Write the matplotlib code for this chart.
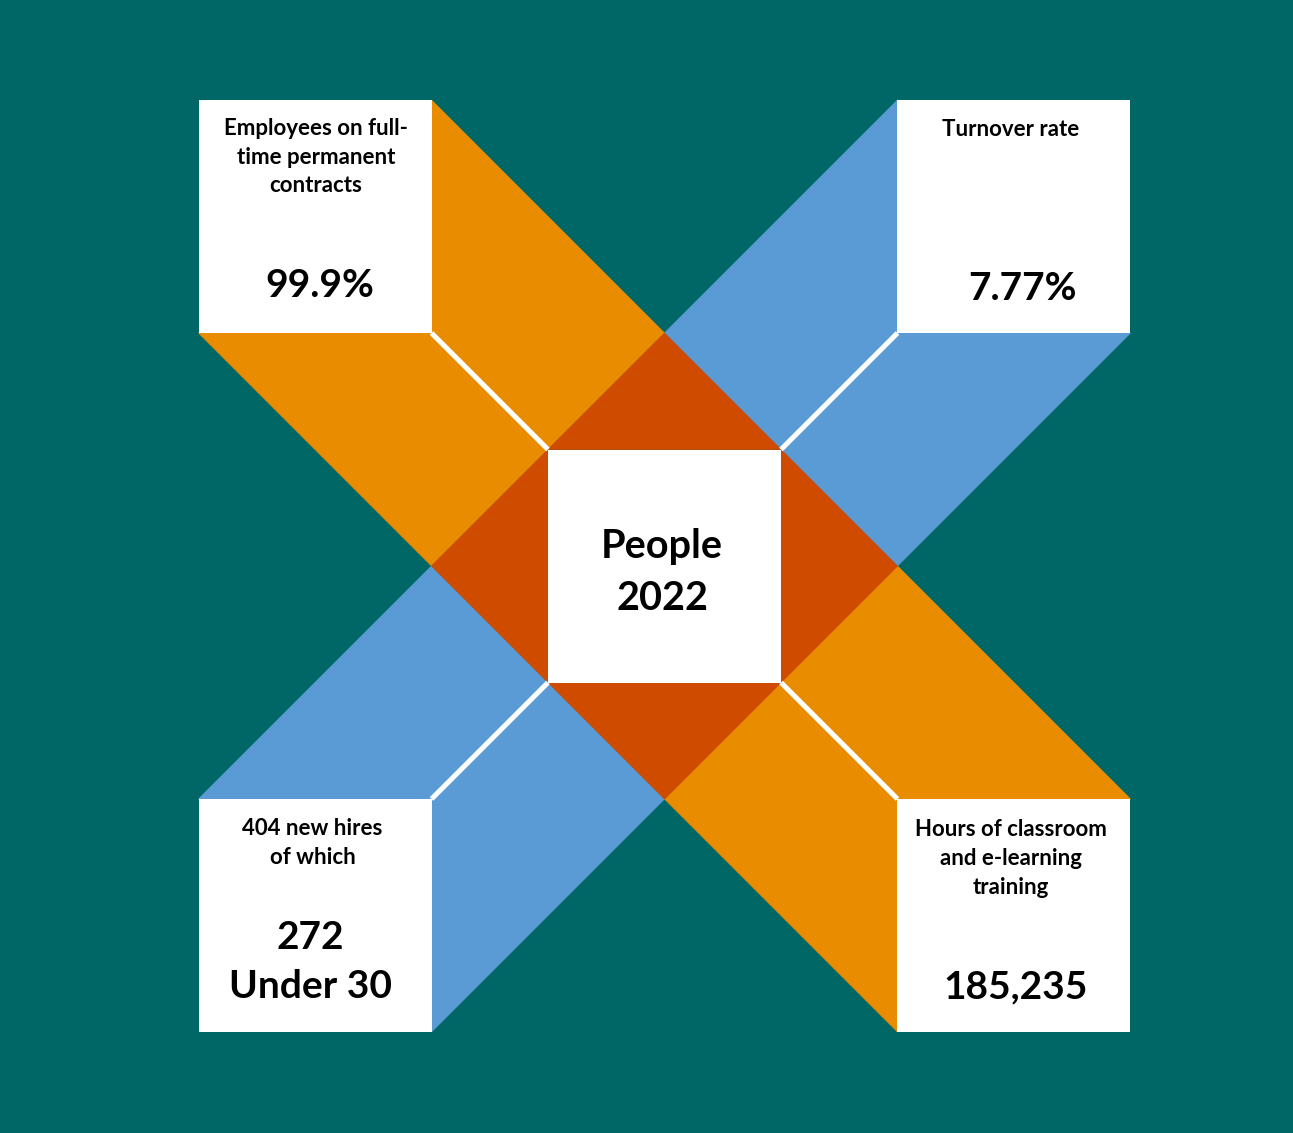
import matplotlib.pyplot as plt
from matplotlib.patches import Polygon, Rectangle

# headline figures for each corner box
labels = ['Employees on full-\ntime permanent\ncontracts', 'Turnover rate',
          '404 new hires\nof which', 'Hours of classroom\nand e-learning\ntraining']
values = ['99.9%', '7.77%', '272\nUnder 30', '185,235']
centre_text = 'People\n2022'

teal = '#006766'
orange = '#EA8C00'
blue = '#5B9BD5'
red = '#CF4B00'

plt.rcParams['font.family'] = ['Lato', 'DejaVu Sans']

fig = plt.figure(figsize=(12.93, 11.33), dpi=100)
fig.patch.set_facecolor(teal)
ax = fig.add_axes([0, 0, 1, 1])
ax.set_facecolor(teal)
# grid unit = half a box, origin at top-left corner of the first box
unit = 116.5
x0, y0 = 198.5, 100
ax.set_xlim(-x0 / unit, (1293 - x0) / unit)
ax.set_ylim((1133 - y0) / unit, -y0 / unit)
ax.axis('off')

# extruded faces of the four corner "cubes"
faces = [
    ([(2, 0), (4, 2), (3, 3), (2, 2)], orange),
    ([(0, 2), (2, 2), (3, 3), (2, 4)], orange),
    ([(6, 0), (6, 2), (5, 3), (4, 2)], blue),
    ([(6, 2), (8, 2), (6, 4), (5, 3)], blue),
    ([(0, 6), (2, 4), (3, 5), (2, 6)], blue),
    ([(2, 6), (3, 5), (4, 6), (2, 8)], blue),
    ([(5, 5), (6, 4), (8, 6), (6, 6)], orange),
    ([(5, 5), (6, 6), (6, 8), (4, 6)], orange),
]
for pts, c in faces:
    ax.add_patch(Polygon(pts, closed=True, facecolor=c, edgecolor=c, lw=0.5))

# red triangles around the centre square
tris = [
    [(3, 3), (5, 3), (4, 2)],
    [(3, 3), (3, 5), (2, 4)],
    [(5, 3), (5, 5), (6, 4)],
    [(3, 5), (5, 5), (4, 6)],
]
for pts in tris:
    ax.add_patch(Polygon(pts, closed=True, facecolor=red, edgecolor=red, lw=0.5))

# white boxes
for bx, by in [(0, 0), (6, 0), (0, 6), (6, 6), (3, 3)]:
    ax.add_patch(Rectangle((bx, by), 2, 2, facecolor='white', edgecolor='none'))

# white seams from corner boxes to the centre
for (xa, ya), (xb, yb) in [((2, 2), (3, 3)), ((6, 2), (5, 3)),
                           ((2, 6), (3, 5)), ((6, 6), (5, 5))]:
    ax.plot([xa, xb], [ya, yb], color='white', lw=3.6, solid_capstyle='butt')

# text
label_pos = [(1.01, 0.49), (6.97, 0.25), (0.98, 6.38), (6.97, 6.51)]
value_pos = [(1.04, 1.59), (7.07, 1.62), (0.96, 7.40), (7.01, 7.61)]
for lab, (lx, ly) in zip(labels, label_pos):
    ax.text(lx, ly, lab, ha='center', va='center', fontsize=16,
            fontweight='bold', linespacing=1.45, color='black')
for val, (vx, vy) in zip(values, value_pos):
    ax.text(vx, vy, val, ha='center', va='center', fontsize=28,
            fontweight='bold', linespacing=1.5, color='black')
ax.text(3.98, 4.06, centre_text, ha='center', va='center', fontsize=28.5,
        fontweight='bold', linespacing=1.5, color='black')

plt.savefig('out.png', dpi=100, facecolor=teal)
